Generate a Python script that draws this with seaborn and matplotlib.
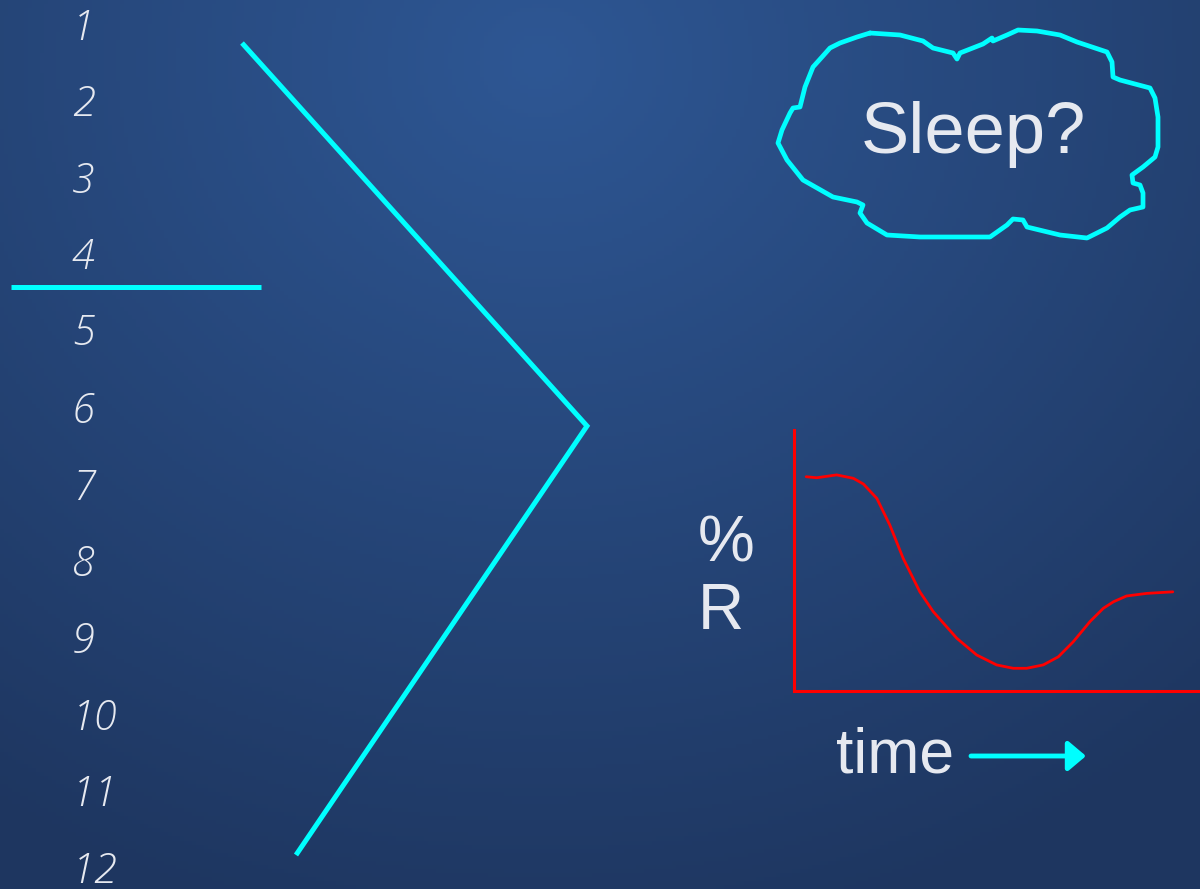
import numpy as np
import pandas as pd
import matplotlib
matplotlib.use("Agg")
import matplotlib.pyplot as plt
import seaborn as sns

# --- data ---
hours = [str(h) for h in range(1, 13)]
hour_y = [27, 103, 180, 256, 332, 410, 487, 563, 640, 717, 793, 870]

divider_x = [11, 261]
divider_y = [287, 287]

chevron_x = [242, 587, 296]
chevron_y = [43, 426, 855]

cloud_x = [870, 900, 923, 933, 953, 957, 960, 983, 992, 993, 1007, 1018, 1037, 1060,
           1077, 1107, 1112, 1113, 1120, 1150, 1155, 1158, 1158, 1155, 1143, 1132,
           1133, 1140, 1143, 1143, 1130, 1120, 1107, 1087, 1060, 1027, 1023, 1013,
           1007, 990, 960, 920, 887, 867, 860, 863, 857, 833, 803, 787, 778, 782,
           790, 793, 800, 805, 813, 822, 830, 840, 857, 870]
cloud_y = [33, 35, 41, 48, 53, 59, 53, 44, 38, 41, 35, 30, 31, 35, 42, 52, 62, 77,
           80, 88, 98, 117, 147, 157, 167, 175, 183, 185, 193, 207, 210, 217, 228,
           238, 235, 227, 220, 219, 225, 237, 237, 237, 235, 223, 213, 205, 202,
           197, 180, 160, 143, 130, 113, 108, 107, 87, 67, 57, 48, 43, 37, 33]

# %R over time (axis units: time 0-10, %R 0-100)
time = [0.30, 0.56, 1.05, 1.46, 1.71, 2.04, 2.36, 2.69, 3.10, 3.43, 4.01, 4.50,
        4.99, 5.40, 5.73, 6.14, 6.51, 6.88, 7.29, 7.62, 7.87, 8.19, 8.69, 9.33]
pct_r = [82.1, 81.7, 82.8, 81.5, 79.3, 73.8, 63.6, 50.8, 38.0, 30.4, 20.2, 13.8,
         10.0, 8.7, 8.7, 10.0, 13.1, 18.9, 26.6, 31.7, 34.2, 36.4, 37.4, 38.0]

CYAN = "#00ffff"
RED = "#ff0000"
TEXT = "#e6e9f0"

sns.set_theme(style="white")
plt.rcParams["font.family"] = ["Liberation Sans", "DejaVu Sans"]

W, H = 1200, 889
fig = plt.figure(figsize=(12, 8.89), dpi=100)
ax = fig.add_axes([0, 0, 1, 1])
ax.set_xlim(0, W)
ax.set_ylim(H, 0)
ax.axis("off")

# background: soft radial gradient, lighter near the top middle
gx, gy = np.meshgrid(np.linspace(0, W, 300), np.linspace(0, H, 220))
d = np.sqrt(((gx - 540) / 1000) ** 2 + ((gy - 60) / 900) ** 2)
d = np.clip(d, 0, 1)
top = np.array([46, 87, 148]) / 255
bottom = np.array([30, 54, 96]) / 255
img = top[None, None, :] * (1 - d[..., None]) + bottom[None, None, :] * d[..., None]
ax.imshow(img, extent=[0, W, H, 0], aspect="auto", zorder=0)

# hour numbers
for label, y in zip(hours, hour_y):
    ax.text(72, y + 2, label, fontsize=30, style="italic", weight="light",
            family=["Open Sans", "DejaVu Sans"], color=TEXT, ha="left", va="center", zorder=3)

# divider and chevron
sns.lineplot(x=divider_x, y=divider_y, ax=ax, color=CYAN, lw=3.6, sort=False, zorder=2,
             solid_capstyle="butt")
sns.lineplot(x=chevron_x, y=chevron_y, ax=ax, color=CYAN, lw=3.6, sort=False, zorder=2,
             solid_joinstyle="miter", solid_capstyle="butt")

# thought cloud
cloud = pd.DataFrame({"x": cloud_x, "y": cloud_y})
ax.plot(cloud["x"], cloud["y"], color=CYAN, lw=3.4, solid_joinstyle="round",
        solid_capstyle="round", zorder=2)
ax.text(973, 134, "Sleep?", fontsize=52, color=TEXT, ha="center", va="center", zorder=3)

# axis labels of the small chart
ax.text(726, 545, "%", fontsize=46, color=TEXT, ha="center", va="center", zorder=3)
ax.text(721, 612, "R", fontsize=46, color=TEXT, ha="center", va="center", zorder=3)
ax.text(836, 756, "time", fontsize=45, color=TEXT, ha="left", va="center", zorder=3)
ax.annotate("", xy=(1086, 756), xytext=(971, 756),
            arrowprops=dict(arrowstyle="-|>,head_length=0.45,head_width=0.38",
                            color=CYAN, lw=3.5, mutation_scale=24,
                            shrinkA=0, shrinkB=0), zorder=3)

# small %R vs time chart
left, right, top_px, bot_px = 794, 1200, 430, 691
cax = fig.add_axes([left / W, (H - bot_px) / H, (right - left) / W, (bot_px - top_px) / H])
cax.patch.set_alpha(0)
df = pd.DataFrame({"time": time, "pct_r": pct_r})
sns.lineplot(data=df, x="time", y="pct_r", ax=cax, color=RED, lw=2.0)
cax.set_xlim(0, 10)
cax.set_ylim(0, 100)
cax.set_xticks([])
cax.set_yticks([])
cax.set_xlabel("")
cax.set_ylabel("")
for side in ["top", "right"]:
    cax.spines[side].set_visible(False)
for side in ["left", "bottom"]:
    cax.spines[side].set_color(RED)
    cax.spines[side].set_linewidth(2.2)

fig.savefig("out.png", dpi=100)
